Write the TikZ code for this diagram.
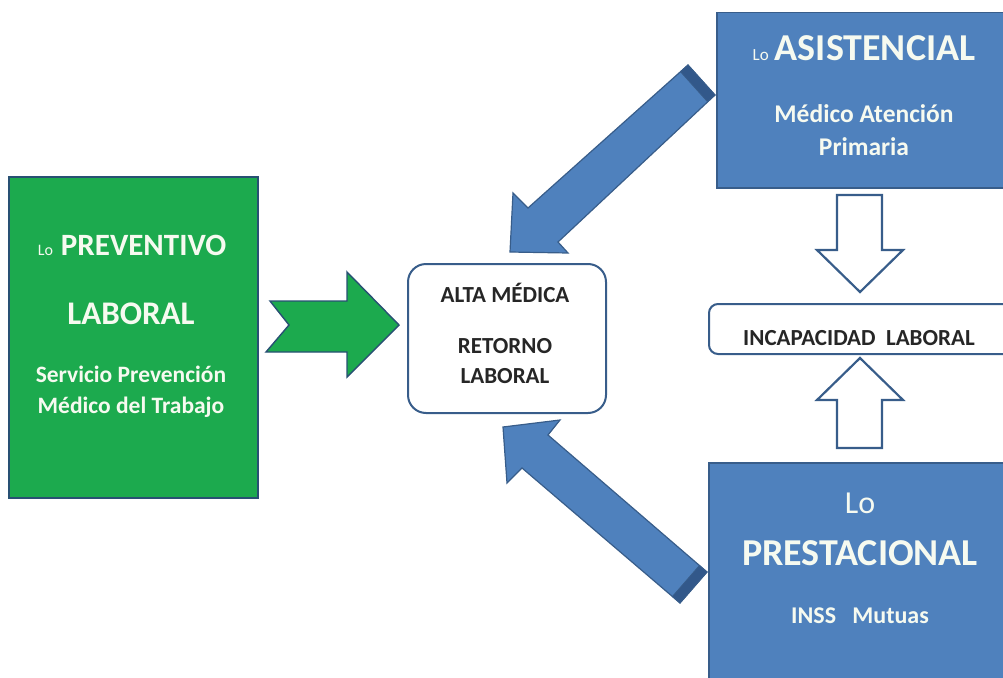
\documentclass[tikz,border=0pt]{standalone}
\usepackage{fontspec}
\setmainfont{Carlito}
\definecolor{bluefill}{RGB}{79,129,189}
\definecolor{blueline}{RGB}{56,93,138}
\definecolor{greenfill}{RGB}{28,170,78}
\definecolor{greenline}{RGB}{40,80,115}
\definecolor{darkband}{RGB}{50,88,138}
\definecolor{softwhite}{RGB}{246,250,240}
\newcommand{\fs}[1]{\fontsize{#1}{#1}\selectfont}
\begin{document}
\begin{tikzpicture}[x=1pt,y=-1pt,
  bluebox/.style={draw=blueline,line width=1.5pt,fill=bluefill,anchor=north west,inner sep=0pt},
  greenbox/.style={draw=greenline,line width=1.5pt,fill=greenfill,anchor=north west,inner sep=0pt},
  whitebox/.style={draw=blueline,line width=2pt,fill=white,anchor=north west,inner sep=0pt},
  blockarrow/.style={draw=blueline,line width=1.2pt,fill=bluefill,line join=miter},
  hollowarrow/.style={draw=blueline,line width=2.2pt,fill=white,line join=miter},
  greenarrow/.style={draw=greenline,line width=1.4pt,fill=greenfill,line join=miter},
  band/.style={fill=darkband,draw=blueline,line width=0.8pt},
  lighttext/.style={text=softwhite,anchor=base,inner sep=0pt},
  darktext/.style={text=black!85,anchor=base,inner sep=0pt}]
\useasboundingbox (0,0) rectangle (1003,677);
\clip (0,0) rectangle (1003,677);

% boxes
\node[greenbox,minimum width=249pt,minimum height=321pt] (prev) at (8,176) {};
\node[whitebox,rounded corners=18pt,minimum width=198pt,minimum height=149pt] (alta) at (407,263) {};
\node[bluebox,minimum width=300pt,minimum height=175pt] (asis) at (716,12) {};
\node[whitebox,rounded corners=9pt,minimum width=310pt,minimum height=50pt] (incap) at (708,303) {};
\node[bluebox,minimum width=310pt,minimum height=240pt] (prest) at (708,462) {};

% green chevron arrow
\draw[greenarrow] (270,301) -- (347,301) -- (347,272) -- (399,325) -- (347,377)
  -- (347,352) -- (266,352) -- (289,325) -- cycle;

% upper blue arrow (asistencial -> alta)
\draw[blockarrow] (688,65) -- (528,208) -- (513,193) -- (510,252) -- (568,253)
  -- (558,242) -- (715,95) -- cycle;
\draw[band] (688,65) -- (715,95) -- (707.5,101.7) -- (680.5,71.7) -- cycle;

% lower blue arrow (prestacional -> alta)
\draw[blockarrow] (707,572) -- (548,435) -- (560,420) -- (503,427) -- (507,483)
  -- (522,468) -- (680,603) -- cycle;
\draw[band] (707,572) -- (680,603) -- (672.4,596.5) -- (699.4,565.5) -- cycle;

% hollow arrows
\draw[hollowarrow] (837,195) -- (882,195) -- (882,250) -- (903,250) -- (860,292)
  -- (817,250) -- (837,250) -- cycle;
\draw[hollowarrow] (860,358) -- (903,400) -- (882,400) -- (882,448) -- (837,448)
  -- (837,400) -- (817,400) -- cycle;

% texts: preventivo
\node[lighttext] (t1) at (132,255) {{\fs{16}Lo}\hspace{8pt}{\bfseries\fs{31}PREVENTIVO}};
\node[lighttext] (t2) at (131,324) {\bfseries\fs{33}LABORAL};
\node[lighttext] (t3) at (131,382) {\bfseries\fs{23.5}Servicio Prevención};
\node[lighttext] (t4) at (131,413) {\bfseries\fs{23.5}Médico del Trabajo};

% texts: alta
\node[darktext] (a1) at (505,302) {\bfseries\fs{23}ALTA MÉDICA};
\node[darktext] (a2) at (505,353) {\bfseries\fs{23}RETORNO};
\node[darktext] (a3) at (505,383) {\bfseries\fs{23}LABORAL};

% texts: asistencial
\node[lighttext] (s1) at (864,60) {{\fs{17}Lo}\hspace{6pt}{\bfseries\fs{38}ASISTENCIAL}};
\node[lighttext] (s2) at (864,122) {\bfseries\fs{25.5}Médico Atención};
\node[lighttext] (s3) at (864,155) {\bfseries\fs{25.5}Primaria};

% texts: incapacidad
\node[darktext] (i1) at (859,345) {\bfseries\fs{23}INCAPACIDAD\ \ LABORAL};

% texts: prestacional
\node[lighttext] (p1) at (860,513) {\fs{32}Lo};
\node[lighttext] (p2) at (860,565) {\bfseries\fs{38}PRESTACIONAL};
\node[lighttext] (p3) at (860,623) {\bfseries\fs{24}INSS\ \ \ Mutuas};
\end{tikzpicture}
\end{document}
